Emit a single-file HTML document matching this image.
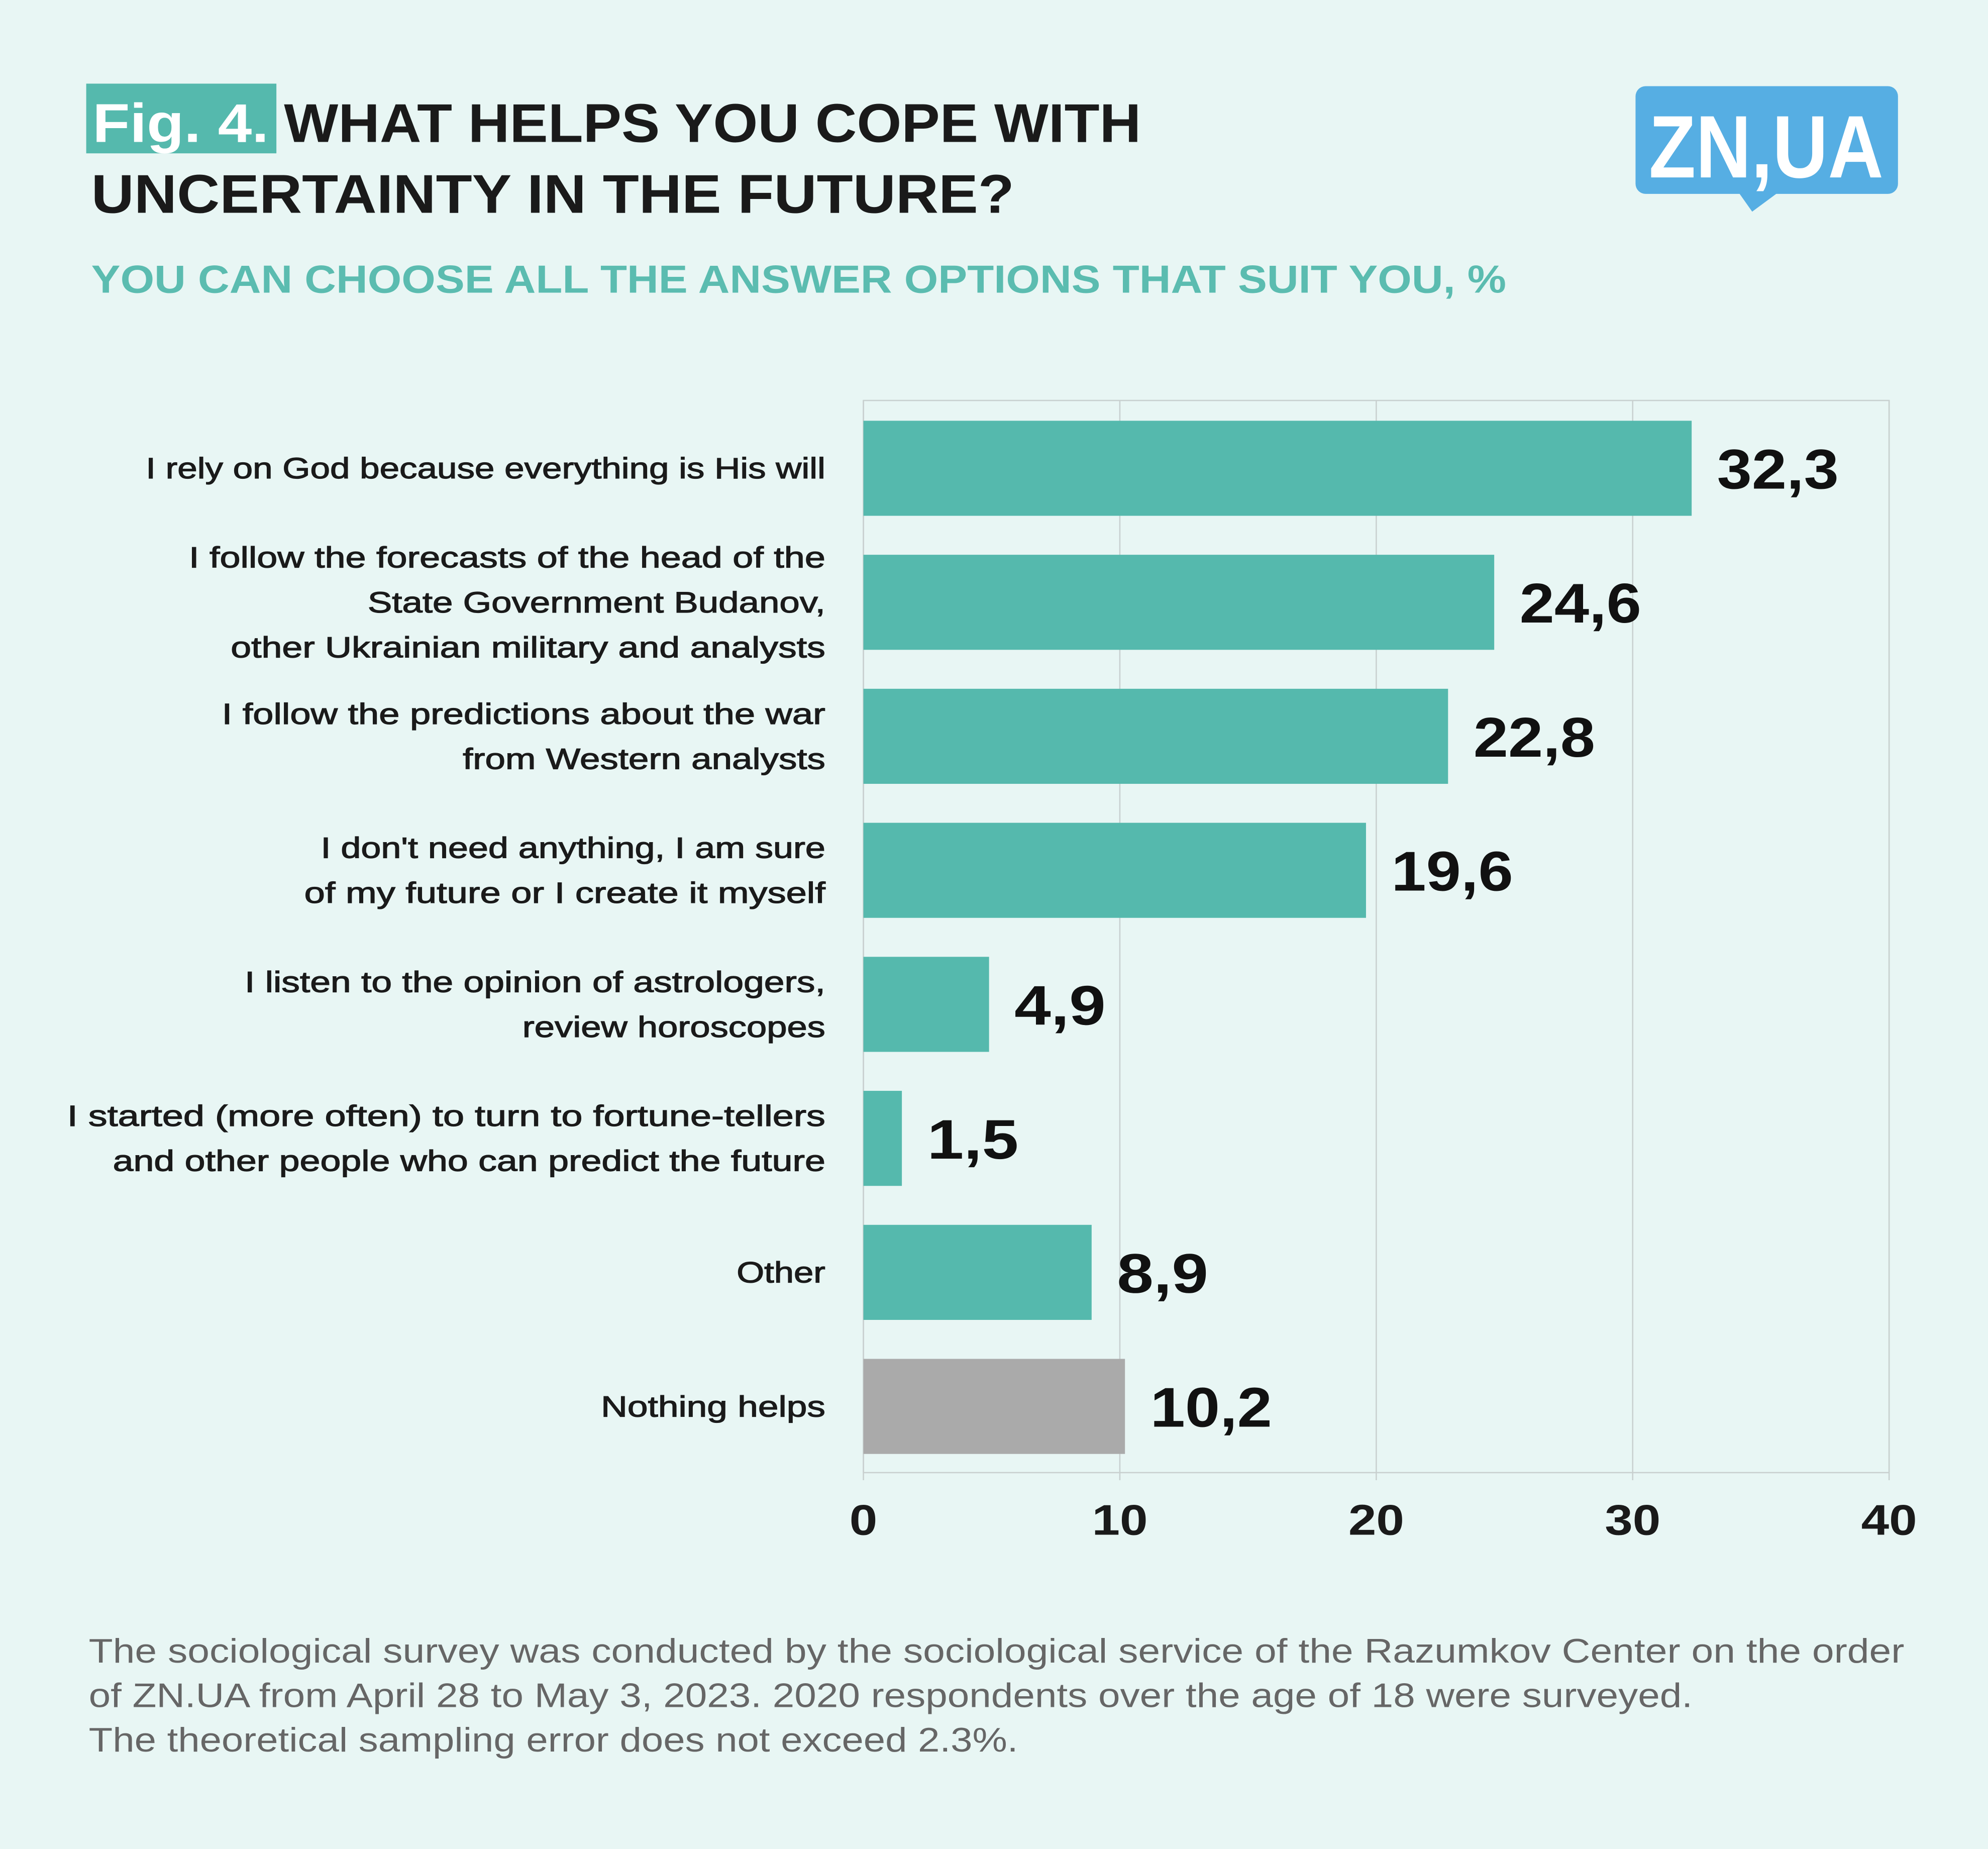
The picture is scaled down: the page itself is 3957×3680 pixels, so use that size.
<!DOCTYPE html>
<html><head><meta charset="utf-8"><style>
html,body{margin:0;padding:0;background:#e8f6f4;}
svg{display:block;font-family:"Liberation Sans",sans-serif;}
</style></head><body>
<svg id="chart" width="3957" height="3680" viewBox="0 0 1568 1459" preserveAspectRatio="none" xmlns="http://www.w3.org/2000/svg">
<rect x="0" y="0" width="1568" height="1459" fill="#e8f6f4"/>
<rect x="68" y="66" width="150" height="55" fill="#55b9ad"/>
<text x="73" y="112" font-size="43" font-weight="bold" fill="#ffffff" textLength="139" lengthAdjust="spacingAndGlyphs">Fig. 4.</text>
<text x="224" y="112" font-size="43" font-weight="bold" fill="#1a1a1a" textLength="676" lengthAdjust="spacingAndGlyphs">WHAT HELPS YOU COPE WITH</text>
<text x="72" y="168" font-size="43" font-weight="bold" fill="#1a1a1a" textLength="728" lengthAdjust="spacingAndGlyphs">UNCERTAINTY IN THE FUTURE?</text>
<text x="72" y="231" font-size="31" font-weight="bold" fill="#5bbcb0" textLength="1116" lengthAdjust="spacingAndGlyphs">YOU CAN CHOOSE ALL THE ANSWER OPTIONS THAT SUIT YOU, %</text>
<g>
<rect x="1290" y="68" width="207" height="85" rx="8" fill="#56aee3"/>
<polygon points="1370,150 1405,150 1382,167" fill="#56aee3"/>
<text x="1393" y="140" font-size="70" font-weight="bold" fill="#ffffff" text-anchor="middle" textLength="185" lengthAdjust="spacingAndGlyphs">ZN,UA</text>
</g>
<g id="plot"></g>
<g font-size="27" fill="#666666">
<text x="70" y="1312" textLength="1432" lengthAdjust="spacingAndGlyphs">The sociological survey was conducted by the sociological service of the Razumkov Center on the order</text>
<text x="70" y="1347" textLength="1265" lengthAdjust="spacingAndGlyphs">of ZN.UA from April 28 to May 3, 2023. 2020 respondents over the age of 18 were surveyed.</text>
<text x="70" y="1382" textLength="733" lengthAdjust="spacingAndGlyphs">The theoretical sampling error does not exceed 2.3%.</text>
</g>
</svg>
<script>
const categories = [
  ["I rely on God because everything is His will"],
  ["I follow the forecasts of the head of the","State Government Budanov,","other Ukrainian military and analysts"],
  ["I follow the predictions about the war","from Western analysts"],
  ["I don't need anything, I am sure","of my future or I create it myself"],
  ["I listen to the opinion of astrologers,","review horoscopes"],
  ["I started (more often) to turn to fortune-tellers","and other people who can predict the future"],
  ["Other"],
  ["Nothing helps"]
];
const values = [32.3, 24.6, 22.8, 19.6, 4.9, 1.5, 8.9, 10.2];
const valueLabels = ["32,3","24,6","22,8","19,6","4,9","1,5","8,9","10,2"];
const barColors = ["#55b9ad","#55b9ad","#55b9ad","#55b9ad","#55b9ad","#55b9ad","#55b9ad","#aaaaaa"];
const ticks = [0, 10, 20, 30, 40];
// rendered line widths (styling, px in view units)
const labelWidths = [[536],[502,361,469],[476,286],[398,411],[458,239],[598,562],[70],[177]];

const NS = "http://www.w3.org/2000/svg";
const plot = document.getElementById("plot");
const X0 = 681, X1 = 1490, Y0 = 316, Y1 = 1162;
const xMax = 40;
const x = v => X0 + (v / xMax) * (X1 - X0);
const band = (Y1 - Y0) / categories.length;
const barH = 75;
const y = i => Y0 + 16 + i * band;
function mk(tag, attrs, parent) {
  const e = document.createElementNS(NS, tag);
  for (const k in attrs) e.setAttribute(k, attrs[k]);
  (parent || plot).appendChild(e);
  return e;
}
const frame = mk("rect", {x: X0, y: Y0, width: X1 - X0, height: Y1 - Y0, fill: "none", stroke: "#c8d0cf", "stroke-width": 1});


ticks.forEach(t => {
  const g = mk("line", {x1: x(t), x2: x(t), y1: Y0, y2: Y1 + 6, stroke: "#c8d0cf", "stroke-width": 1});
  
  
  const s = String(t);
  const tl = mk("text", {x: x(t), y: 1211, "font-size": 34, "font-weight": "bold", fill: "#1a1a1a", "text-anchor": "middle", textLength: s.length * 22, lengthAdjust: "spacingAndGlyphs"});
  tl.textContent = s;
  
  
});
values.forEach((v, i) => {
  const b = mk("rect", {x: X0, y: y(i), width: x(v) - X0, height: barH, fill: barColors[i]});
  
  
  const vl = mk("text", {x: x(v) + 20, y: y(i) + barH / 2 + 16, "font-size": 44, "font-weight": "bold", fill: "#111111", textLength: valueLabels[i].length * 24, lengthAdjust: "spacingAndGlyphs"});
  vl.textContent = valueLabels[i];
  
  
  const lines = categories[i];
  const lh = 35.5;
  const cy = y(i) + barH / 2;
  const lab = mk("text", {"font-size": 23, fill: "#1a1a1a", stroke: "#1a1a1a", "stroke-width": 0.5, "text-anchor": "end"});
  
  
  lines.forEach((ln, j) => {
    const ts = mk("tspan", {x: 651, y: cy + 8 + (j - (lines.length - 1) / 2) * lh, textLength: labelWidths[i][j], lengthAdjust: "spacingAndGlyphs"}, lab);
    ts.textContent = ln;
  });
});
</script>
</body></html>
